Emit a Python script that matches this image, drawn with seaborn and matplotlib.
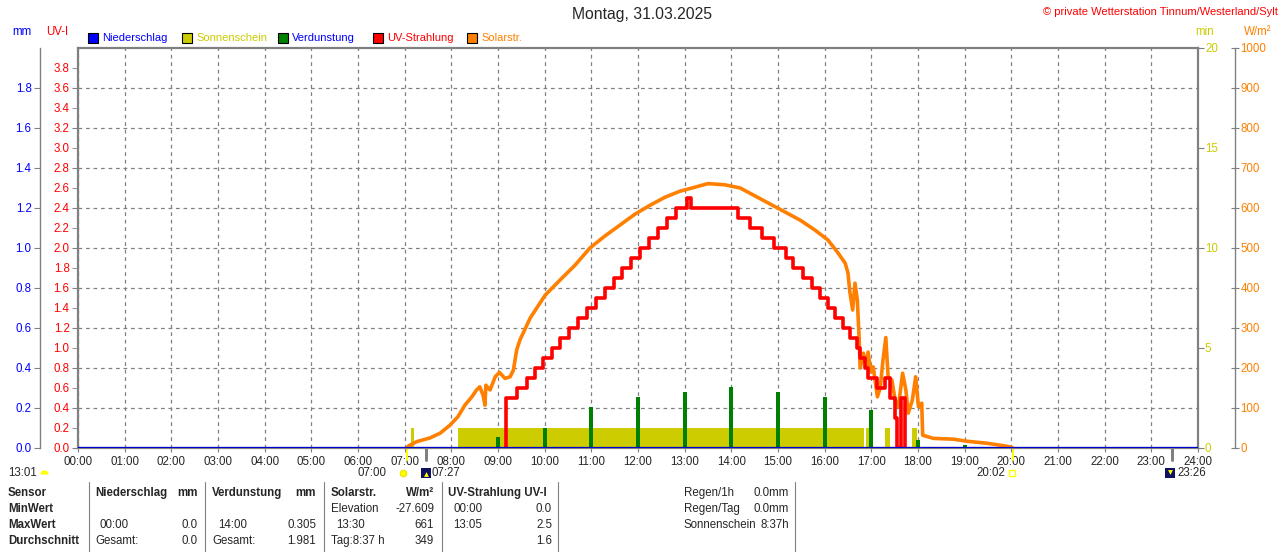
import numpy as np
import matplotlib
matplotlib.use('Agg')
import matplotlib.pyplot as plt
from matplotlib.patches import Rectangle
from matplotlib.lines import Line2D
import seaborn as sns

# Werte aus dem Tagesdiagramm 31.03.2025 (Zeit in Stunden)
solar_zeit = [7.05, 7.08, 7.26, 7.54, 7.76, 7.97, 8.14, 8.29, 8.44, 8.54, 8.61, 8.68, 8.72,
              8.74, 8.83, 8.94, 9.03, 9.15, 9.26, 9.33, 9.40, 9.47, 9.69, 10.01, 10.33,
              10.65, 10.97, 11.29, 11.61, 11.94, 12.26, 12.58, 12.90, 13.22, 13.50, 13.86,
              14.19, 14.51, 14.83, 15.15, 15.47, 15.79, 16.07, 16.29, 16.44, 16.50, 16.54,
              16.60, 16.65, 16.70, 16.74, 16.76, 16.83, 16.89, 16.93, 16.99, 17.04, 17.13,
              17.19, 17.25, 17.31, 17.36, 17.44, 17.51, 17.58, 17.67, 17.74, 17.79, 17.88,
              17.95, 18.01, 18.08, 18.10, 18.33, 18.76, 19.04, 19.47, 19.76, 19.97, 20.03]
solar_wert = [0, 5, 16, 25, 37, 57, 78, 107, 128, 145, 153, 132, 107,
              157, 145, 178, 189, 174, 178, 195, 245, 270, 325, 382, 420,
              457, 500, 530, 557, 585, 607, 627, 642, 652, 661, 658,
              650, 630, 610, 590, 570, 545, 520, 487, 462, 437, 390,
              345, 412, 370, 270, 200, 237, 203, 240, 190, 203, 128,
              150, 220, 276, 178, 170, 120, 103, 187, 145, 87, 120,
              178, 103, 112, 32, 24, 22, 17, 12, 7, 3, 0]

uv_zeit = [9.17, 9.17, 9.41, 9.62, 9.79, 9.96, 10.16, 10.33, 10.52, 10.71, 10.91, 11.10,
           11.29, 11.49, 11.66, 11.85, 12.04, 12.24, 12.43, 12.62, 12.81, 13.05, 13.13,
           14.14, 14.40, 14.66, 14.91, 15.17, 15.32, 15.54, 15.73, 15.90, 16.07, 16.22,
           16.39, 16.54, 16.69, 16.76, 16.86, 16.93, 17.12, 17.29, 17.40, 17.51, 17.55,
           17.64, 17.72]
uv_wert = [0.0, 0.5, 0.6, 0.7, 0.8, 0.9, 1.0, 1.1, 1.2, 1.3, 1.4, 1.5,
           1.6, 1.7, 1.8, 1.9, 2.0, 2.1, 2.2, 2.3, 2.4, 2.5, 2.4,
           2.3, 2.2, 2.1, 2.0, 1.9, 1.8, 1.7, 1.6, 1.5, 1.4, 1.3,
           1.2, 1.1, 1.0, 0.9, 0.8, 0.7, 0.6, 0.7, 0.5, 0.3, 0.0,
           0.5, 0.0]

verd_zeit = [9, 10, 11, 12, 13, 14, 15, 16, 17, 18, 19]
verd_wert = [0.055, 0.10, 0.205, 0.255, 0.28, 0.305, 0.28, 0.255, 0.19, 0.04, 0.016]

nieder_zeit = [0, 24]
nieder_wert = [0.0, 0.0]

sonne_von = [7.13, 8.14, 16.88, 17.30, 17.87]
sonne_bis = [7.20, 16.85, 16.95, 17.40, 17.97]

stunden = list(range(25))
stunden_labels = [f'{h:02d}:00' for h in stunden]

GRAU = '#808080'
GELB = '#cccc00'
ORANGE = '#ff8000'

sns.set_style('white')
plt.rcParams['font.family'] = ['Liberation Sans', 'DejaVu Sans']
plt.rcParams['font.size'] = 8.3

fig = plt.figure(figsize=(12.8, 5.52), dpi=100)


def px(x, y):
    return x / 1280, 1 - y / 552


ax = fig.add_axes([78 / 1280, 104 / 552, 1120 / 1280, 400 / 552])
ax.set_xlim(0, 24)
ax.set_ylim(0, 4)
ax.set_xticks(stunden, stunden_labels)
uv_major = np.round(np.arange(0, 3.61, 0.4), 1)
uv_minor = np.round(np.arange(0.2, 3.81, 0.4), 1)
ax.set_yticks(uv_major, [f'{v:.1f}' for v in uv_major])
ax.set_yticks(uv_minor, [f'{v:.1f}' for v in uv_minor], minor=True)
ax.tick_params(axis='x', which='major', bottom=True, length=3, color=GRAU, pad=3, labelsize=8.3)
ax.tick_params(axis='y', which='both', left=True, right=False, length=4, color=GRAU,
               labelcolor='red', labelsize=8.3, pad=2)
ax.grid(axis='both', which='major', color=GRAU, linestyle=(0, (3, 3)), linewidth=0.9)
for s in ax.spines.values():
    s.set_color(GRAU)
    s.set_linewidth(1.6)

# Sonnenschein (min)
ax_min = ax.twinx()
ax_min.set_ylim(0, 20)
ax_min.set_yticks([0, 5, 10, 15, 20])
ax_min.tick_params(axis='y', right=True, left=False, length=4, color=GRAU, labelcolor=GELB,
                   labelsize=8.3, pad=1)
for s in ax_min.spines.values():
    s.set_visible(False)
ax_min.bar(sonne_von, 1, width=np.subtract(sonne_bis, sonne_von), align='edge',
           color=GELB, linewidth=0)

# Verdunstung (mm)
ax_mm = ax.twinx()
ax_mm.set_ylim(0, 2)
mm_ticks = np.round(np.arange(0, 1.81, 0.2), 1)
ax_mm.set_yticks(mm_ticks, [f'{v:.1f}' for v in mm_ticks])
ax_mm.yaxis.set_ticks_position('left')
ax_mm.yaxis.set_label_position('left')
for k, s in ax_mm.spines.items():
    s.set_visible(k == 'left')
ax_mm.spines['left'].set_position(('axes', (40 - 78) / 1120))
ax_mm.spines['left'].set_color(GRAU)
ax_mm.spines['left'].set_linewidth(1.0)
ax_mm.tick_params(axis='y', left=True, right=False, length=4, color=GRAU, labelcolor='blue',
                  labelsize=8.3, pad=2)
ax_mm.bar(verd_zeit, verd_wert, width=0.08, color='#008000', linewidth=0)

# Solarstrahlung (W/m²)
ax_w = ax.twinx()
ax_w.set_ylim(0, 1000)
ax_w.set_yticks(range(0, 1001, 100))
for k, s in ax_w.spines.items():
    s.set_visible(k == 'right')
ax_w.spines['right'].set_position(('axes', (1235 - 78) / 1120))
ax_w.spines['right'].set_color(GRAU)
ax_w.spines['right'].set_linewidth(1.0)
ax_w.tick_params(axis='y', right=True, left=False, direction='inout', length=6, color=GRAU,
                 labelcolor=ORANGE, labelsize=8.3, pad=1)
sns.lineplot(x=solar_zeit, y=solar_wert, ax=ax_w, color=ORANGE, linewidth=2.6,
             estimator=None, sort=False)

# UV-Strahlung
ax_uv = ax.twinx()
ax_uv.set_ylim(0, 4)
ax_uv.set_yticks([])
for s in ax_uv.spines.values():
    s.set_visible(False)
sns.lineplot(x=uv_zeit, y=uv_wert, ax=ax_uv, color='#ff0000', linewidth=2.6,
             estimator=None, sort=False, drawstyle='steps-post')
# Niederschlag (mm, hier 0) als Grundlinie
ax_nied = ax.twinx()
ax_nied.set_ylim(0, 2)
ax_nied.set_yticks([])
for s in ax_nied.spines.values():
    s.set_visible(False)
sns.lineplot(x=nieder_zeit, y=nieder_wert, ax=ax_nied, color='#0000d0', linewidth=1.6,
             estimator=None)
for a in (ax_min, ax_mm, ax_w, ax_uv, ax_nied):
    a.set_ylabel('')
    a.set_xlabel('')
    a.set_xlim(0, 24)

# Auf- und Untergang Markierungen
trans = ax.get_xaxis_transform()
for t, c, w in [(7.05, '#ffff00', 2), (7.45, GRAU, 3), (20.033, '#ffff00', 2), (23.433, GRAU, 3)]:
    ax.plot([t, t], [-0.03, 0], color=c, linewidth=w * 0.72, transform=trans, clip_on=False)

# Titel und Beschriftungen
fig.text(*px(642, 15), 'Montag, 31.03.2025', ha='center', va='center', fontsize=11.3)
fig.text(*px(1278, 12), '© private Wetterstation Tinnum/Westerland/Sylt', ha='right',
         va='center', color='red', fontsize=8)
fig.text(*px(22, 32), 'mm', ha='center', va='center', color='blue')
fig.text(*px(57, 32), 'UV-I', ha='center', va='center', color='red')
fig.text(*px(1205, 32), 'min', ha='center', va='center', color=GELB)
fig.text(*px(1258, 32), 'W/m²', ha='center', va='center', color=ORANGE)

legende = [('Niederschlag', '#0000ff', 'blue'), ('Sonnenschein', GELB, GELB),
           ('Verdunstung', '#008000', 'blue'), ('UV-Strahlung', '#ff0000', 'red'),
           ('Solarstr.', ORANGE, ORANGE)]
leg_x = [88, 182, 278, 373, 467]
for (name, farbe, tfarbe), lx in zip(legende, leg_x):
    x0, y0 = px(lx, 43)
    fig.add_artist(Rectangle((x0, y0), 10 / 1280, 10 / 552, transform=fig.transFigure,
                             facecolor=farbe, edgecolor='black', linewidth=0.8))
    fig.text(*px(lx + 14, 38), name, ha='left', va='center', color=tfarbe, fontsize=8)

# Sonne / Mond unter der Achse
fig.text(*px(8, 473), '13:01', ha='left', va='center')
fig.add_artist(Line2D([44 / 1280], [1 - 474 / 552], marker='o', markersize=6, fillstyle='top',
                      color='#ffff00', markeredgewidth=0, transform=fig.transFigure))
fig.text(*px(386, 473), '07:00', ha='right', va='center')
fig.add_artist(Line2D([403 / 1280], [1 - 473 / 552], marker='o', markersize=4.5,
                      markerfacecolor='#ffff00', markeredgecolor='#e8e800',
                      transform=fig.transFigure))
fig.add_artist(Line2D([426 / 1280], [1 - 473 / 552], marker='s', markersize=7,
                      markerfacecolor='#101060', markeredgewidth=0, transform=fig.transFigure))
fig.add_artist(Line2D([426 / 1280], [1 - 474 / 552], marker='^', markersize=3.5,
                      markerfacecolor='#ffff00', markeredgewidth=0, transform=fig.transFigure))
fig.text(*px(432, 473), '07:27', ha='left', va='center')
fig.text(*px(1005, 473), '20:02', ha='right', va='center')
fig.add_artist(Line2D([1012 / 1280], [1 - 473 / 552], marker='s', markersize=5,
                      markerfacecolor='white', markeredgecolor='#ffff00',
                      transform=fig.transFigure))
fig.add_artist(Line2D([1170 / 1280], [1 - 473 / 552], marker='s', markersize=7,
                      markerfacecolor='#101060', markeredgewidth=0, transform=fig.transFigure))
fig.add_artist(Line2D([1170 / 1280], [1 - 472 / 552], marker='v', markersize=3.5,
                      markerfacecolor='#ffff00', markeredgewidth=0, transform=fig.transFigure))
fig.text(*px(1177, 473), '23:26', ha='left', va='center')

# Tabelle unten
for sx in [89, 205, 324, 442, 558, 795]:
    fig.add_artist(Line2D([sx / 1280] * 2, [1 - 482 / 552, 0], color=GRAU, linewidth=0.8,
                          transform=fig.transFigure))

zeilen_y = [493, 509, 525, 541]
links = [
    (8, 0, 'Sensor', True), (8, 1, 'MinWert', True), (8, 2, 'MaxWert', True),
    (8, 3, 'Durchschnitt', True),
    (95, 0, 'Niederschlag', True), (100, 2, '00:00', False), (95, 3, 'Gesamt:', False),
    (212, 0, 'Verdunstung', True), (218, 2, '14:00', False), (212, 3, 'Gesamt:', False),
    (331, 0, 'Solarstr.', True), (331, 1, 'Elevation', False), (336, 2, '13:30', False),
    (331, 3, 'Tag:8:37 h', False),
    (448, 0, 'UV-Strahlung UV-I', True), (453, 1, '00:00', False), (453, 2, '13:05', False),
    (684, 0, 'Regen/1h', False), (684, 1, 'Regen/Tag', False), (684, 2, 'Sonnenschein', False),
]
rechts = [
    (198, 0, 'mm', True), (198, 2, '0.0', False), (198, 3, '0.0', False),
    (316, 0, 'mm', True), (316, 2, '0.305', False), (316, 3, '1.981', False),
    (434, 0, 'W/m²', True), (434, 1, '-27.609', False), (434, 2, '661', False),
    (434, 3, '349', False),
    (552, 1, '0.0', False), (552, 2, '2.5', False), (552, 3, '1.6', False),
    (789, 0, '0.0mm', False), (789, 1, '0.0mm', False), (789, 2, '8:37h', False),
]
for x, z, txt, fett in links:
    fig.text(*px(x, zeilen_y[z]), txt, ha='left', va='center',
             fontweight='bold' if fett else 'normal')
for x, z, txt, fett in rechts:
    fig.text(*px(x, zeilen_y[z]), txt, ha='right', va='center',
             fontweight='bold' if fett else 'normal')

fig.savefig('out.png', dpi=100)
